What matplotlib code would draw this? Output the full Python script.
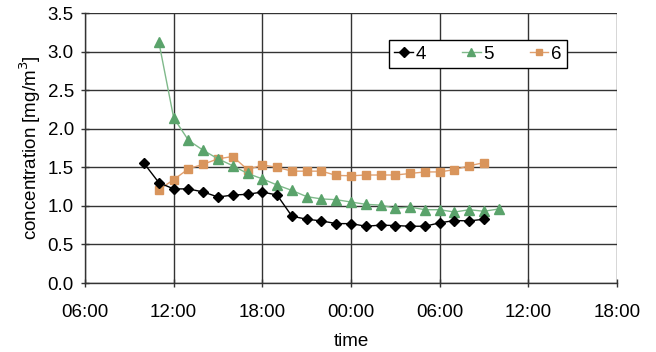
import numpy as np
import pandas as pd
import matplotlib
matplotlib.use("Agg")
import matplotlib.pyplot as plt
import matplotlib.dates as mdates

plt.rcParams['font.family'] = ['Liberation Sans', 'DejaVu Sans']

# series 4: hourly from 10:00 (day 1)
t4 = pd.date_range('2000-01-01 10:00', periods=24, freq='h')
v4 = [1.55, 1.30, 1.22, 1.22, 1.18, 1.115, 1.14, 1.15, 1.18, 1.14,
      0.866, 0.827, 0.805, 0.77, 0.77, 0.736, 0.75, 0.745, 0.736, 0.736,
      0.78, 0.81, 0.805, 0.827]
# series 5: hourly from 11:00
t5 = pd.date_range('2000-01-01 11:00', periods=24, freq='h')
v5 = [3.12, 2.14, 1.85, 1.72, 1.61, 1.52, 1.42, 1.35, 1.27, 1.20,
      1.12, 1.09, 1.08, 1.05, 1.02, 1.01, 0.97, 0.985, 0.95, 0.95,
      0.92, 0.95, 0.93, 0.96]
# series 6: hourly from 11:00
t6 = pd.date_range('2000-01-01 11:00', periods=23, freq='h')
v6 = [1.21, 1.34, 1.48, 1.54, 1.61, 1.64, 1.47, 1.53, 1.50, 1.45,
      1.45, 1.45, 1.395, 1.39, 1.40, 1.40, 1.40, 1.42, 1.44, 1.44,
      1.47, 1.52, 1.56]

x_start = pd.Timestamp('2000-01-01 06:00')
x_end = pd.Timestamp('2000-01-02 18:00')
y_ticks = [0.0, 0.5, 1.0, 1.5, 2.0, 2.5, 3.0, 3.5]

fig = plt.figure(figsize=(6.56, 3.52), dpi=100)
ax = fig.add_axes([0.1296, 0.196, 0.811, 0.767])

ax.plot(t4, v4, color='black', lw=1.0, marker='D', markersize=5.5, label='4', zorder=5)
ax.plot(t5, v5, color='#7fb98a', lw=1.0, marker='^', markersize=7,
        markerfacecolor='#5aa36b', markeredgecolor='#5aa36b', label='5', zorder=4)
ax.plot(t6, v6, color='#e0a070', lw=1.0, marker='s', markersize=5.5,
        markerfacecolor='#d9955c', markeredgecolor='#d9955c', label='6', zorder=3)

ax.set_xlim(x_start, x_end)
ax.set_ylim(0, 3.5)
ax.xaxis.set_major_locator(mdates.HourLocator(byhour=[0, 6, 12, 18]))
ax.xaxis.set_major_formatter(mdates.DateFormatter('%H:%M'))
ax.set_yticks(y_ticks)
ax.set_yticklabels([f'{v:.1f}' for v in y_ticks])

ax.grid(True, color='#333333', lw=1.0)
ax.set_axisbelow(True)
for s in ['top', 'right']:
    ax.spines[s].set_visible(False)
for s in ['left', 'bottom']:
    ax.spines[s].set_color('#333333')
    ax.spines[s].set_linewidth(1.0)

ax.tick_params(axis='both', labelsize=13.5, direction='inout', length=6, width=1.0, color='#333333')
ax.tick_params(axis='x', pad=12)
ax.tick_params(axis='y', pad=5)
ax.set_xlabel('time', fontsize=13.5, labelpad=9)
ax.set_ylabel('concentration [mg/m$^3$]', fontsize=13.5, labelpad=3)

leg = ax.legend(ncol=3, loc='upper left', bbox_to_anchor=(0.571, 0.90), fontsize=13.5,
                frameon=True, fancybox=False, edgecolor='black', framealpha=1,
                handlelength=1.0, handletextpad=0.15, columnspacing=1.9,
                borderpad=0.3, borderaxespad=0, markerscale=0.9)
leg.get_frame().set_linewidth(1.0)

fig.savefig('out.png', dpi=100)
